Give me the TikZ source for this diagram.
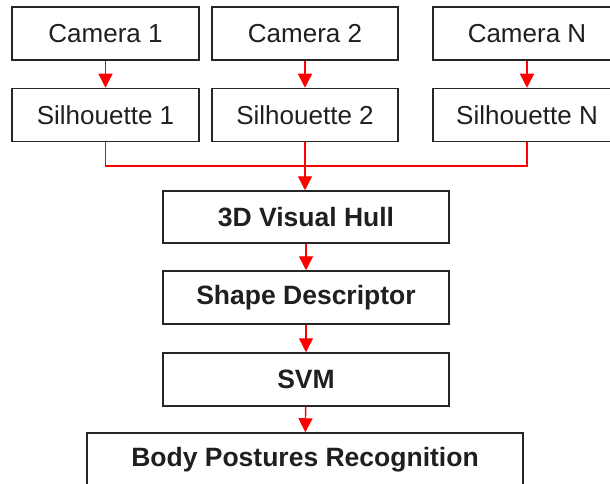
\documentclass[tikz,border=0pt]{standalone}
\usepackage{fontspec}
\setmainfont{Liberation Sans}
\usetikzlibrary{arrows.meta}
\begin{document}
\begin{tikzpicture}[x=1pt,y=-1pt,
  box/.style={draw=black!85,line width=1.5pt,rectangle,minimum height=53pt,inner sep=0pt,
    font=\fontsize{26}{30}\selectfont,text=black!88},
  bbox/.style={box,font=\fontsize{26.5}{30}\selectfont\bfseries},
  conn/.style={red,line width=1.4pt},
  arr/.style={conn,-{Triangle[length=14pt,width=14pt]}}]
\useasboundingbox (0,0) rectangle (610,484);
\clip (0,0) rectangle (610,484);
\node[box,minimum width=187pt] (c1) at (105.5,33.5) {Camera 1};
\node[box,minimum width=186pt] (c2) at (305,33.5) {Camera 2};
\node[box,minimum width=188pt] (cN) at (527,33.5) {Camera N};
\node[box,minimum width=187pt] (s1) at (105.5,115) {Silhouette 1};
\node[box,minimum width=186pt] (s2) at (305,115) {Silhouette 2};
\node[box,minimum width=188pt] (sN) at (527,115) {Silhouette N};
\node[bbox,minimum width=286pt,minimum height=52pt] (hull) at (306,217) {3D Visual Hull};
\node[bbox,minimum width=286pt] (shape) at (306,297.5) {Shape Descriptor};
\node[bbox,minimum width=286pt] (svm) at (306,379.5) {SVM};
\node[bbox,minimum width=436pt] (body) at (305,459.5) {Body Postures Recognition};
\coordinate (j) at (304,166);
\draw[arr] (c1) -- (s1);
\draw[arr] (c2) -- (s2);
\draw[arr] (cN) -- (sN);
\draw[conn] (s1.south) |- (j);
\draw[conn] (sN.south) |- (j);
\draw[arr] (s2.south) -- (s2.south |- hull.north);
\draw[arr] (hull) -- (shape);
\draw[arr] (shape) -- (svm);
\draw[arr] (svm) -- (body);
\end{tikzpicture}
\end{document}
